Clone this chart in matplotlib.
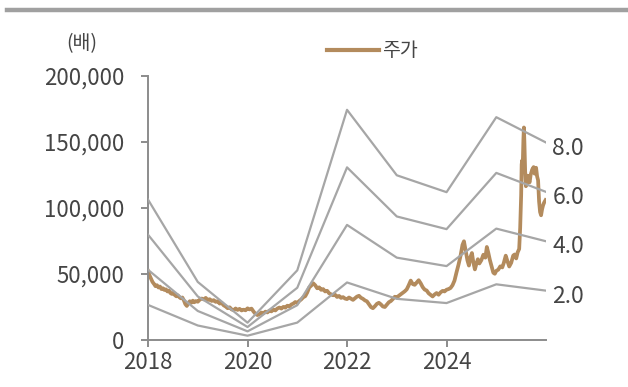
import numpy as np
import matplotlib
matplotlib.use("Agg")
import matplotlib.pyplot as plt
from matplotlib.lines import Line2D
from matplotlib.ticker import FuncFormatter

plt.rcParams['font.family'] = ['Noto Sans CJK KR', 'DejaVu Sans']

# PER band: per-share earnings (x1) by year, and the multiples drawn
band_years = [2018, 2019, 2020, 2021, 2022, 2023, 2024, 2025, 2026]
eps = [13300, 5500, 1640, 6600, 21800, 15600, 14000, 21100, 18700]
multiples = [8.0, 6.0, 4.0, 2.0]

# share price (decimal year, won)
price_t = [
    2018.00, 2018.03, 2018.06, 2018.09, 2018.12, 2018.15, 2018.18, 2018.21, 2018.24, 2018.27,
    2018.30, 2018.33, 2018.36, 2018.39, 2018.42, 2018.45, 2018.48, 2018.51, 2018.54, 2018.57,
    2018.60, 2018.63, 2018.66, 2018.69, 2018.72, 2018.75, 2018.78, 2018.81, 2018.84, 2018.87,
    2018.90, 2018.93, 2018.96, 2019.00, 2019.04, 2019.08, 2019.12, 2019.16, 2019.20, 2019.24,
    2019.28, 2019.32, 2019.36, 2019.40, 2019.44, 2019.48, 2019.52, 2019.56, 2019.60, 2019.64,
    2019.68, 2019.72, 2019.76, 2019.80, 2019.84, 2019.88, 2019.92, 2019.96, 2020.00, 2020.04,
    2020.08, 2020.12, 2020.16, 2020.20, 2020.24, 2020.28, 2020.32, 2020.36, 2020.40, 2020.44,
    2020.48, 2020.52, 2020.56, 2020.60, 2020.64, 2020.68, 2020.72, 2020.76, 2020.80, 2020.84,
    2020.88, 2020.92, 2020.96, 2021.00, 2021.04, 2021.08, 2021.12, 2021.16, 2021.20, 2021.24,
    2021.28, 2021.32, 2021.36, 2021.40, 2021.44, 2021.48, 2021.52, 2021.56, 2021.60, 2021.64,
    2021.68, 2021.72, 2021.76, 2021.80, 2021.84, 2021.88, 2021.92, 2021.96, 2022.00, 2022.04,
    2022.08, 2022.12, 2022.16, 2022.20, 2022.24, 2022.28, 2022.32, 2022.36, 2022.40, 2022.44,
    2022.48, 2022.52, 2022.56, 2022.60, 2022.64, 2022.68, 2022.72, 2022.76, 2022.80, 2022.84,
    2022.88, 2022.92, 2022.96, 2023.00, 2023.04, 2023.08, 2023.12, 2023.16, 2023.20, 2023.24,
    2023.28, 2023.32, 2023.36, 2023.40, 2023.44, 2023.48, 2023.52, 2023.56, 2023.60, 2023.64,
    2023.68, 2023.72, 2023.76, 2023.80, 2023.84, 2023.88, 2023.92, 2023.96, 2024.00, 2024.04,
    2024.08, 2024.12, 2024.16, 2024.20, 2024.24, 2024.28, 2024.32, 2024.35, 2024.38, 2024.42,
    2024.45, 2024.48, 2024.51, 2024.54, 2024.57, 2024.60, 2024.63, 2024.66, 2024.70, 2024.74,
    2024.78, 2024.81, 2024.84, 2024.87, 2024.90, 2024.94, 2024.97, 2025.00, 2025.04, 2025.08,
    2025.12, 2025.15, 2025.19, 2025.22, 2025.26, 2025.30, 2025.34, 2025.37, 2025.40, 2025.43,
    2025.46, 2025.48, 2025.50, 2025.51, 2025.52, 2025.53, 2025.545, 2025.555, 2025.565, 2025.58,
    2025.595, 2025.61, 2025.63, 2025.65, 2025.67, 2025.69, 2025.72, 2025.75, 2025.77, 2025.80,
    2025.82, 2025.84, 2025.86, 2025.88, 2025.90, 2025.92, 2025.94, 2025.96, 2025.99,
]
price_v = [
    52300, 49000, 46500, 44000, 42500, 40800, 41500, 39800, 40500, 38600,
    39200, 37900, 38400, 36800, 37400, 35600, 34900, 35800, 34000, 33100,
    33800, 32400, 31600, 32200, 30100, 27200, 25800, 27900, 29400, 28200,
    29800, 28600, 29500, 29000, 30600, 31400, 30800, 31900, 30300, 30900,
    29600, 30200, 28900, 29400, 27600, 28100, 26300, 25400, 24100, 24800,
    23200, 22600, 23900, 22800, 23600, 22400, 23000, 22500, 24000, 23200,
    23800, 21600, 19800, 18900, 19600, 20800, 20200, 21500, 20900, 22300,
    21700, 23000, 22400, 23900, 24600, 23800, 25100, 24500, 26000, 25400,
    26900, 27600, 28800, 28000, 29600, 30800, 32400, 33200, 36000, 39800,
    41200, 43000, 41500, 39200, 39900, 38000, 38600, 36800, 37300, 35400,
    34600, 33900, 34300, 32600, 33400, 31900, 32500, 31400, 31000, 32200,
    31300, 30400, 31700, 32900, 33500, 32000, 31200, 30000, 29300, 27200,
    25000, 24100, 25600, 27400, 28200, 27000, 25400, 25000, 26800, 28600,
    29500, 31000, 32800, 32200, 33500, 34600, 35800, 36900, 38400, 41500,
    45000, 42400, 41800, 43600, 45300, 43000, 40100, 38200, 37500, 35400,
    34200, 33000, 34500, 35600, 34300, 36100, 37200, 36800, 38100, 38600,
    39400, 41500, 45000, 51200, 57000, 63500, 72000, 74800, 68500, 60300,
    56400, 62800, 65900, 58600, 53500, 57800, 61200, 58000, 60500, 64600,
    62400, 70500, 66000, 60800, 56500, 51000, 50200, 52400, 53300, 55800,
    55000, 58300, 63900, 60200, 55700, 58500, 64000, 64800, 61800, 66500,
    69000, 85000, 110000, 133000, 136000, 130000, 152000, 161000, 150000, 128000,
    116500, 118000, 124500, 121000, 119500, 125000, 129000, 131000, 126000, 130500,
    124000, 121000, 105000, 97000, 94500, 99000, 102000, 104000, 106000,
]

GRAY = '#A6A6A6'
BROWN = '#B38B5D'
TEXT = '#454545'
AXIS = '#8C8C8C'

fig = plt.figure(figsize=(6.28, 3.87), dpi=100)
ax = fig.add_axes([0.2357, 0.1214, 0.6338, 0.6822])

ax.plot(price_t, price_v, color=BROWN, lw=2.7, solid_joinstyle='round', zorder=2)

eps_arr = np.array(eps, dtype=float)
for m in multiples:
    vals = eps_arr * m
    ax.plot(band_years, vals, color=GRAY, lw=1.6, zorder=3)
    ax.annotate(f'{m:.1f}', xy=(band_years[-1], vals[-1]), xytext=(4.5, -4),
                textcoords='offset points', va='center', ha='left',
                fontsize=16.5, color=TEXT)

ax.set_xlim(2018, 2026)
ax.set_ylim(0, 200000)
ax.set_xticks([2018, 2020, 2022, 2024])
ax.set_yticks(np.arange(0, 200001, 50000))
ax.yaxis.set_major_formatter(FuncFormatter(lambda v, p: f'{int(v):,}'))

for s in ['top', 'right']:
    ax.spines[s].set_visible(False)
for s in ['left', 'bottom']:
    ax.spines[s].set_color(AXIS)
    ax.spines[s].set_linewidth(1.4)
ax.tick_params(axis='both', direction='out', length=5, width=1.4, color=AXIS,
               labelsize=16, labelcolor=TEXT, pad=3)
ax.tick_params(axis='y', pad=12)

# unit label and legend
fig.text(82 / 628, 1 - 44 / 387, '(배)', ha='center', va='center', fontsize=14, color=TEXT)
fig.legend(handles=[Line2D([], [], color=BROWN, lw=3)], labels=['주가'],
           loc='center left', bbox_to_anchor=(309 / 628, 1 - 51 / 387),
           frameon=False, fontsize=14, handlelength=2.7, handletextpad=0.15,
           labelcolor=TEXT)

# header rule
fig.add_artist(Line2D([7 / 628, 1.0], [1 - 10 / 387, 1 - 10 / 387],
                      color='#A0A0A0', lw=3.2, transform=fig.transFigure))

fig.savefig('out.png', dpi=100)
